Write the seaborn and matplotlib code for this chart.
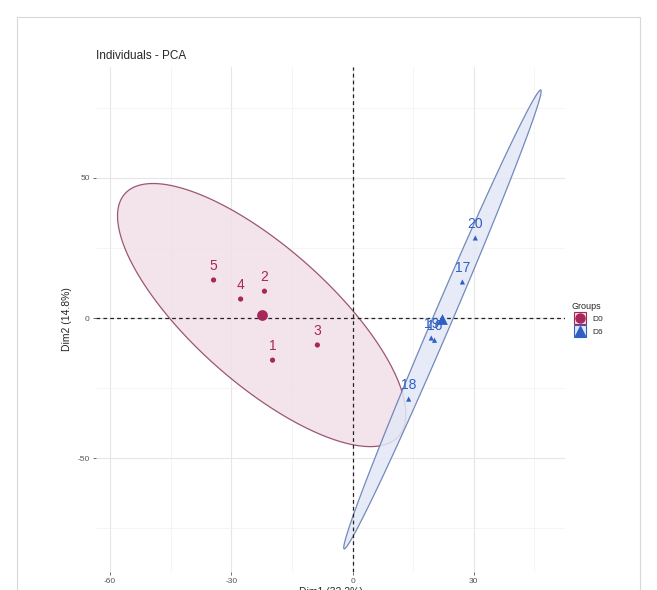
import numpy as np
import pandas as pd
import seaborn as sns
import matplotlib
matplotlib.use("Agg")
import matplotlib.pyplot as plt
from matplotlib.patches import Rectangle
from matplotlib.lines import Line2D
from matplotlib.legend_handler import HandlerBase

# ---- data ----
labels_d0 = ["1", "2", "3", "4", "5"]
dim1_d0 = [-19.8, -21.8, -8.7, -27.7, -34.4]
dim2_d0 = [-15.0, 9.6, -9.6, 6.8, 13.6]

labels_d6 = ["16", "17", "18", "19", "20"]
dim1_d6 = [20.3, 27.2, 13.9, 19.5, 30.4]
dim2_d6 = [-7.9, 12.9, -28.9, -7.1, 28.6]

groups = ["D0", "D6"]
colors = {"D0": "#A8275A", "D6": "#2F5EC4"}
fills = {"D0": "#F1DFE7", "D6": "#E3E8F7"}
edges = {"D0": "#8C3B5E", "D6": "#5B77AE"}
markers = {"D0": "o", "D6": "^"}

df = pd.DataFrame({
    "Dim1": dim1_d0 + dim1_d6,
    "Dim2": dim2_d0 + dim2_d6,
    "label": labels_d0 + labels_d6,
    "Groups": ["D0"] * len(dim1_d0) + ["D6"] * len(dim1_d6),
})

sns.set_theme(style="whitegrid")
plt.rcParams["font.family"] = ["Liberation Sans", "DejaVu Sans"]
plt.rcParams["axes.unicode_minus"] = False

fig = plt.figure(figsize=(6.57, 5.90), dpi=100)
ax = fig.add_axes([96 / 657, 1 - 572 / 590, (565 - 96) / 657, (572 - 67) / 590])
ax.set_facecolor("white")


def norm_ellipse(x, y, level=0.95, segments=51):
    x = np.asarray(x, float)
    y = np.asarray(y, float)
    n = len(x)
    dfn, dfd = 2, n - 1
    # qf(level, 2, dfd) closed form for dfn = 2
    fq = dfd / 2.0 * ((1 - level) ** (-2.0 / dfd) - 1)
    radius = np.sqrt(dfn * fq)
    cov = np.cov(np.vstack([x, y]))
    chol = np.linalg.cholesky(cov).T  # upper triangular like R chol
    t = np.linspace(0, 2 * np.pi, segments * 4)
    circ = np.column_stack([np.cos(t), np.sin(t)])
    pts = np.array([x.mean(), y.mean()]) + radius * circ @ chol
    return pts


for g in groups:
    sub = df[df["Groups"] == g]
    e = norm_ellipse(sub["Dim1"], sub["Dim2"])
    ax.fill(e[:, 0], e[:, 1], facecolor=fills[g], edgecolor=edges[g],
            linewidth=0.9, alpha=0.85, zorder=2)

ax.axhline(0, color="#222222", linestyle=(0, (3, 2.5)), linewidth=0.9, zorder=3)
ax.axvline(0, color="#222222", linestyle=(0, (3, 2.5)), linewidth=0.9, zorder=3)

sns.scatterplot(data=df, x="Dim1", y="Dim2", hue="Groups", style="Groups",
                palette=colors, markers=markers, s=14, linewidth=0,
                legend=False, ax=ax, zorder=4)

for g in groups:
    sub = df[df["Groups"] == g]
    ax.scatter([sub["Dim1"].mean()], [sub["Dim2"].mean()], marker=markers[g],
               s=60, color=colors[g], linewidths=0, zorder=5)
    for _, r in sub.iterrows():
        ax.text(r["Dim1"], r["Dim2"] + 2.5, r["label"], color=colors[g],
                fontsize=10, ha="center", va="bottom", zorder=6)

ax.set_xlim(-63.5, 52.6)
ax.set_ylim(-90.6, 89.6)
ax.set_xticks([-60, -30, 0, 30])
ax.set_yticks([-50, 0, 50])
ax.set_xticks([-45, -15, 15, 45], minor=True)
ax.set_yticks([-75, -25, 25, 75], minor=True)
ax.grid(which="major", color="#E6E6E6", linewidth=0.8)
ax.grid(which="minor", color="#F1F1F1", linewidth=0.5)
for s in ax.spines.values():
    s.set_visible(False)
ax.tick_params(axis="both", which="major", labelsize=6, colors="#555555",
               length=2.5, width=0.6, pad=2, left=True, bottom=True)
ax.tick_params(axis="both", which="minor", length=0)
ax.set_xlabel("Dim1 (32.2%)", fontsize=7.5, labelpad=1)
ax.set_ylabel("Dim2 (14.8%)", fontsize=7.5, labelpad=4)
ax.set_title("Individuals - PCA", fontsize=8.5, loc="left", pad=6)


class BoxMarkerHandler(HandlerBase):
    def create_artists(self, legend, orig_handle, xdescent, ydescent,
                       width, height, fontsize, trans):
        g = orig_handle.get_label()
        side = height
        x0 = -xdescent + (width - side) / 2
        y0 = -ydescent
        box = Rectangle((x0, y0), side, side, facecolor=fills[g],
                        edgecolor=colors[g], linewidth=0.8, transform=trans)
        mk = Line2D([x0 + side / 2], [y0 + side / 2],
                    marker=markers[g], color=colors[g], linestyle="",
                    markersize=6.5 if g == "D0" else 7, transform=trans)
        return [box, mk]


handles = [Line2D([], [], label=g) for g in groups]
leg = fig.legend(handles, groups, title="Groups", loc="upper left",
                 bbox_to_anchor=(566 / 657, 1 - 296 / 590), frameon=False,
                 fontsize=6, title_fontsize=6.5, handlelength=1.9,
                 handleheight=1.9, handletextpad=0.6, labelspacing=0.1,
                 borderpad=0.2,
                 handler_map={Line2D: BoxMarkerHandler()})
leg._legend_box.align = "left"

fig.patches.append(Rectangle((17 / 657, -0.1), (640 - 17) / 657, 1.1 - 17 / 590,
                             transform=fig.transFigure, fill=False,
                             edgecolor="#D8D8D8", linewidth=0.8))

fig.savefig("out.png", dpi=100)
